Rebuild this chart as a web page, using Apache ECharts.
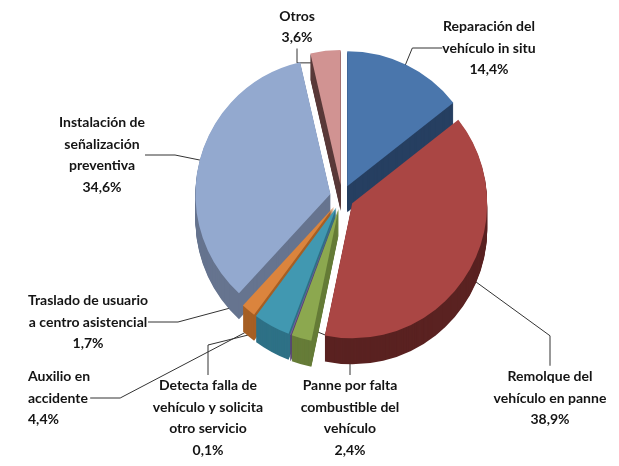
<!DOCTYPE html>
<html><head><meta charset="utf-8">
<script src="https://cdn.jsdelivr.net/npm/echarts@6/dist/echarts.min.js"></script>
<style>html,body{margin:0;padding:0;background:#fff}#c{width:619px;height:466px}</style>
</head><body><div id="c"></div>
<script>
const categories = [
  'Reparación del\nvehículo in situ',
  'Remolque del\nvehículo en panne',
  'Panne por falta\ncombustible del\nvehículo',
  'Detecta falla de\nvehículo y solicita\notro servicio',
  'Auxilio en\naccidente',
  'Traslado de usuario\na centro asistencial',
  'Instalación de\nseñalización\npreventiva',
  'Otros'
];
const values = [14.4, 38.9, 2.4, 0.1, 4.4, 1.7, 34.6, 3.6];

const topColors  = ['#4A76AC','#AA4644','#8CA84F','#7D62A0','#4198B1','#DB843D','#93A9CF','#D19392'];
const sideColors = ['#263F61','#5A2221','#667C38','#5A4575','#2E7186','#A65F24','#66748F','#5A3A3A'];
// label block anchor positions [x, y, align]
const labelPos = [[489,48,'center'],[550,398,'center'],[350,418,'center'],[208,418,'center'],[28,398,'left'],[88,322,'center'],[102,155,'center'],[297,27,'center']];

const CX = 342, CY = 197, R = 135, DEPTH = 26, OFF = 12;
const fmt = v => v.toFixed(1).replace('.', ',') + '%';

const series = [];
function shapeSeries(dy, colors) {
  return {
    type: 'pie', silent: true, animation: false,
    center: [CX, CY + dy], radius: R, startAngle: 90, clockwise: true,
    selectedMode: 'multiple', selectedOffset: OFF,
    label: {show: false}, labelLine: {show: false},
    emphasis: {disabled: true},
    data: values.map((v, i) => ({name: categories[i], value: v, selected: true, itemStyle: {color: colors[i]}}))
  };
}
for (let k = DEPTH; k >= 1; k--) series.push(shapeSeries(k, sideColors));
series.push(shapeSeries(0, topColors));
// label-only series
series.push({
  type: 'pie', silent: true, animation: false,
  center: [CX, CY], radius: R, startAngle: 90, clockwise: true,
  emphasis: {disabled: true},
  avoidLabelOverlap: false,
  itemStyle: {color: 'rgba(0,0,0,0)'},
  label: {
    show: true, position: 'outside',
    formatter: p => p.name + '\n' + fmt(p.value),
    fontFamily: "Lato, sans-serif",
    fontWeight: 'bold', fontSize: 14, lineHeight: 21.5, color: '#141414'
  },
  labelLine: {show: true, lineStyle: {color: '#333', width: 1}},
  labelLayout: p => {
    const q = labelPos[p.dataIndex];
    return {x: q[0], y: q[1], align: q[2], verticalAlign: 'middle'};
  },
  data: values.map((v, i) => ({name: categories[i], value: v,
    label: {align: labelPos[i][2]}}))
});

const chart = echarts.init(document.getElementById('c'));
chart.setOption({animation: false, series});
</script></body></html>
